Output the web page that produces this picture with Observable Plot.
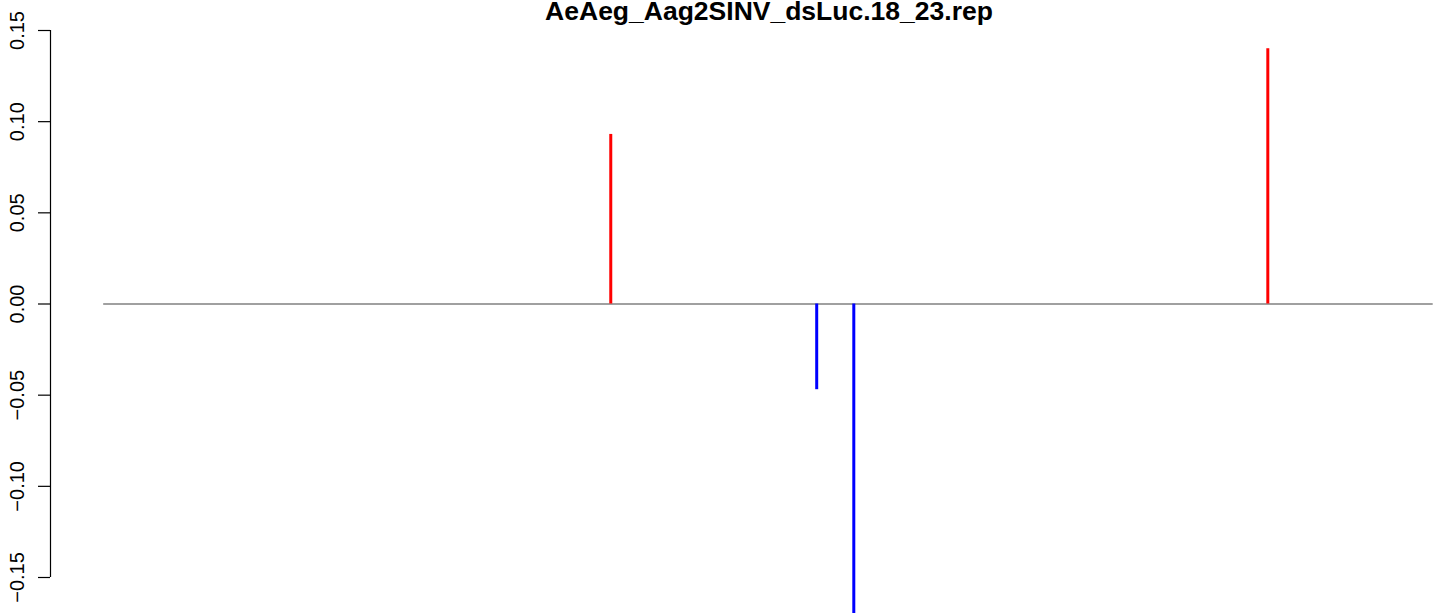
<!DOCTYPE html>
<html>
<head>
<meta charset="utf-8">
<script src="https://cdn.jsdelivr.net/npm/d3@7"></script>
<script src="https://cdn.jsdelivr.net/npm/@observablehq/plot@0.6"></script>
<style>
  html, body { margin: 0; padding: 0; background: #fff; }
  #wrap { position: relative; width: 1444px; height: 613px; overflow: hidden; font-family: "Liberation Sans", Arial, Helvetica, sans-serif; }
  #title { position: absolute; top: 0px; left: 769px; transform: translateX(-50%); font-weight: bold; font-size: 26.5px; line-height: 22px; white-space: nowrap; color: #000; }
  #chart { position: absolute; left: 0; top: 0; }
</style>
</head>
<body>
<div id="wrap">
  <div id="chart"></div>
  <div id="title"></div>
</div>
<script>
const title = "AeAeg_Aag2SINV_dsLuc.18_23.rep";
// positions along the sequence (arbitrary units) and their values
const positions = [38.14, 53.63, 56.42, 87.56];
const values = [0.093, -0.047, -0.18, 0.14];
const baselineRange = [0, 100];
const yTicks = [-0.15, -0.10, -0.05, 0.00, 0.05, 0.10, 0.15];

const data = positions.map((p, i) => ({pos: p, value: values[i]}));
const fmt = d => d3.format(".2f")(d).replace("-", "\u2212");

const chart = Plot.plot({
  width: 1444,
  height: 613,
  marginLeft: 50,
  marginRight: 0,
  marginTop: 30,
  marginBottom: 36,
  style: {fontFamily: '"Liberation Sans", Arial, Helvetica, sans-serif', fontSize: "20px", background: "#fff", overflow: "hidden"},
  x: {domain: [-4, 100.85], axis: null},
  y: {domain: [-0.15, 0.15]},
  marks: [
    Plot.ruleY([0], {x1: baselineRange[0], x2: baselineRange[1], stroke: "#808080", strokeWidth: 1.3}),
    Plot.ruleX(data, {x: "pos", y1: 0, y2: "value", stroke: d => d.value > 0 ? "#ff0000" : "#0000ff", strokeWidth: 3}),
    Plot.ruleX([-4], {y1: yTicks[0], y2: yTicks[yTicks.length - 1], stroke: "#000", strokeWidth: 1.2}),
    Plot.axisY({ticks: yTicks, tickFormat: fmt, tickSize: 12, tickPadding: 15, tickRotate: -90, label: null, fontSize: 20, stroke: "#000", strokeWidth: 1.2})
  ]
});
document.getElementById("chart").appendChild(chart);
document.getElementById("title").textContent = title;
</script>
</body>
</html>
